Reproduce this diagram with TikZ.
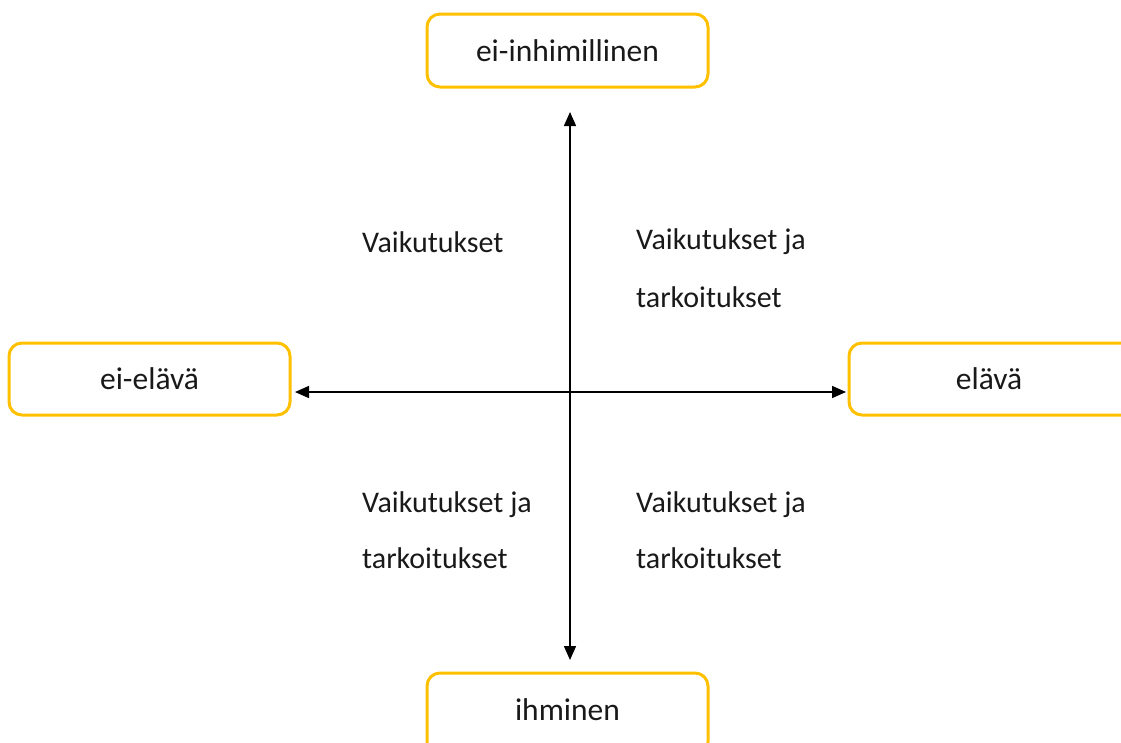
\documentclass[tikz,border=0pt]{standalone}
\usepackage{fontspec}
\setmainfont{Carlito}
\usetikzlibrary{arrows.meta}
\definecolor{boxgold}{HTML}{FFC000}
\tikzset{
  pole/.style={draw=boxgold, line width=3pt, rounded corners=13pt, fill=white},
  polelabel/.style={font=\fontsize{31.5}{36}\selectfont, text=black!90},
  quad/.style={anchor=west, font=\fontsize{30}{35}\selectfont, text=black!90, inner sep=0pt},
  axis/.style={line width=1.5pt, {Triangle[length=14pt,width=12pt]}-{Triangle[length=14pt,width=12pt]}}
}
\begin{document}
\begin{tikzpicture}[x=1pt,y=-1pt]
\useasboundingbox (0,0) rectangle (1121,742);
% the four poles
\draw[pole] (427,14) rectangle (708,87);
\node[polelabel] (top) at (567.5,50.5) {ei-inhimillinen};
\draw[pole] (9,343) rectangle (290,415);
\node[polelabel] (left) at (149.5,379) {ei-elävä};
\draw[pole] (849,343) rectangle (1135,415);
\node[polelabel] (right) at (989,379) {elävä};
\draw[pole] (427,673) rectangle (708,755);
\node[polelabel] (bottom) at (567.5,710) {ihminen};
% axis end points
\coordinate (n) at (570,112);
\coordinate (s) at (570,660);
\coordinate (w) at (295,392);
\coordinate (e) at (846,392);
\draw[axis] (n) -- (s);
\draw[axis] (w) -- (e);
% quadrant texts
\node[quad] (q1) at (362,242) {Vaikutukset};
\node[quad] (q2a) at (636,242) {Vaikutukset ja};
\node[quad] (q2b) at (636,297) {tarkoitukset};
\node[quad] (q3a) at (362,505) {Vaikutukset ja};
\node[quad] (q3b) at (362,558) {tarkoitukset};
\node[quad] (q4a) at (636,505) {Vaikutukset ja};
\node[quad] (q4b) at (636,558) {tarkoitukset};
\end{tikzpicture}
\end{document}
